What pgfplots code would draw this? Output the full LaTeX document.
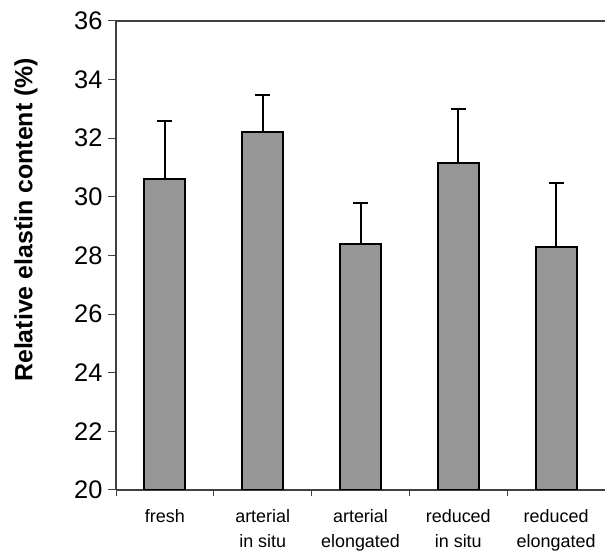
\documentclass[border=0pt]{standalone}
\usepackage{fontspec}
\setmainfont{Liberation Sans}
\usepackage{pgfplots}
\pgfplotsset{compat=1.18}
\definecolor{barfill}{RGB}{150,150,150}
\definecolor{axisgray}{RGB}{64,64,64}
\begin{document}
\begin{tikzpicture}
\useasboundingbox (0,0) rectangle (605bp,555bp);
\begin{axis}[
  at={(116bp,65bp)}, anchor=south west,
  scale only axis,
  width=489bp, height=469bp,
  xmin=-0.5, xmax=4.5,
  ymin=20, ymax=36,
  axis x line*=box, axis y line*=left,
  axis line style={axisgray, line width=1.2bp},
  xtick={0,1,2,3,4},
  xticklabels={fresh, {arterial\\in situ}, {arterial\\elongated}, {reduced\\in situ}, {reduced\\elongated}},
  minor xtick={-0.5,0.5,1.5,2.5,3.5},
  xtick pos=left, ytick pos=left,
  tick align=outside,
  major x tick style={draw=none},
  minor x tick style={axisgray, line width=1bp},
  minor tick length=6bp,
  ytick={20,22,...,36},
  y tick style={axisgray, line width=1bp},
  major tick length=8bp,
  /pgf/number format/assume math mode=true,
  yticklabel style={font=\fontsize{25.5}{30}\selectfont, xshift=-2bp},
  xticklabel style={font=\fontsize{18}{25}\selectfont, align=center, anchor=north, yshift=-8bp},
  ylabel={\textbf{Relative elastin content (\%)}},
  ylabel style={font=\fontsize{25}{30}\selectfont, at={(axis description cs:-0.184,0.576)}, anchor=center, rotate=0},
]
\addplot[
  ybar, bar width=41bp, bar shift=0pt,
  fill=barfill, draw=black, line width=2bp,
  error bars/.cd, y dir=plus, y explicit,
  error bar style={black, line width=2bp},
  error mark options={rotate=90, mark size=7.5bp, line width=2bp, black},
] table[x=x, y=y, y error=e] {
x y     e
0 30.60 2.00
1 32.20 1.28
2 28.38 1.42
3 31.15 1.85
4 28.30 2.18
};
\end{axis}
\end{tikzpicture}
\end{document}
